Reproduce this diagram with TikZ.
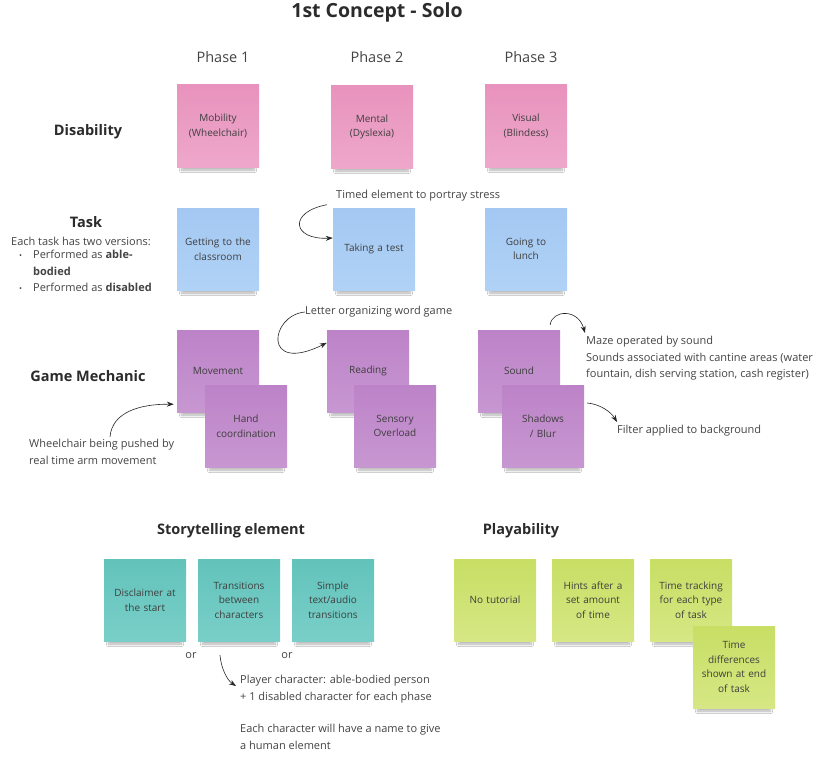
\documentclass[tikz,border=0pt]{standalone}
\usepackage{fontspec}
\setmainfont{Open Sans}
\usetikzlibrary{arrows.meta,shadows.blur}

\newcommand*{\notesize}{82pt}

\definecolor{pinktop}{HTML}{E893BD}
\definecolor{pinkbot}{HTML}{EEA7CA}
\definecolor{bluetop}{HTML}{A4C8F2}
\definecolor{bluebot}{HTML}{B0D2F6}
\definecolor{purpletop}{HTML}{BD83C8}
\definecolor{purplebot}{HTML}{C797D1}
\definecolor{tealtop}{HTML}{62C3BB}
\definecolor{tealbot}{HTML}{79CFC8}
\definecolor{limetop}{HTML}{C8DE64}
\definecolor{limebot}{HTML}{D6E784}
\definecolor{notetext}{HTML}{3E3E3E}
\definecolor{headtext}{HTML}{2B2B2B}
\definecolor{bodytext}{HTML}{444444}

\begin{document}
\begin{tikzpicture}
[
	x=1pt, y=-1pt,
	note/.style={rectangle,minimum size=\notesize,inner sep=2pt,text width=76pt,align=center,
		font=\fontsize{10}{14.5}\selectfont,text=notetext,
		blur shadow={shadow xshift=0pt,shadow yshift=-9pt,shadow opacity=32,shadow blur steps=8,
			shadow blur radius=3pt,shadow scale=0.88}},
	pinknote/.style={note,top color=pinktop,bottom color=pinkbot},
	bluenote/.style={note,top color=bluetop,bottom color=bluebot},
	purplenote/.style={note,top color=purpletop,bottom color=purplebot},
	tealnote/.style={note,top color=tealtop,bottom color=tealbot},
	limenote/.style={note,top color=limetop,bottom color=limebot},
	heading/.style={font=\fontsize{14.5}{17}\selectfont\bfseries,text=headtext},
	phase/.style={font=\fontsize{14.5}{17}\selectfont,text=bodytext},
	remark/.style={font=\fontsize{11}{16.5}\selectfont,text=bodytext,inner sep=0pt,align=left},
	pointer/.style={-{Stealth[length=7pt,width=5pt]},black!85,semithick}
]

	\useasboundingbox[fill=white] (0,0) rectangle (827,765);

	% titles
	\node[font=\fontsize{19.5}{23}\selectfont\bfseries,text=headtext] (title) at (377,12) {1st Concept - Solo};
	\node[phase] (phase1) at (223,57) {Phase 1};
	\node[phase] (phase2) at (377,57) {Phase 2};
	\node[phase] (phase3) at (531,57) {Phase 3};

	\node[heading] (disability) at (88,132) {Disability};
	\node[heading] (task) at (86,222) {Task};
	\node[heading] (mechanic) at (88,376) {Game Mechanic};
	\node[heading] (story) at (231,531) {Storytelling element};
	\node[heading] (play) at (521,531) {Playability};

	\node[remark] (versions) at (81,241) {Each task has two versions:};
	\node[remark,anchor=north west] (performed) at (19,250)
		{\makebox[14pt][l]{\footnotesize\textbullet}Performed as \textbf{able-}\\
		 \hspace*{14pt}\textbf{bodied}\\
		 \makebox[14pt][l]{\footnotesize\textbullet}Performed as \textbf{disabled}};

	% disability notes
	\node[pinknote] (mobility) at (218,126) {Mobility\\(Wheelchair)};
	\node[pinknote] (mental) at (372,127) {Mental\\(Dyslexia)};
	\node[pinknote] (visual) at (526,126) {Visual\\(Blindess)};

	% task notes
	\node[bluenote] (classroom) at (218,249) {Getting to the\\classroom};
	\node[bluenote] (test) at (374,249) {Taking a test};
	\node[bluenote] (lunch) at (526,249) {Going to\\lunch};

	% mechanic notes
	\node[purplenote] (movement) at (218,371) {Movement};
	\node[purplenote] (hand) at (246,426) {Hand\\coordination};
	\node[purplenote] (reading) at (368,371) {Reading};
	\node[purplenote] (sensory) at (395,426) {Sensory\\Overload};
	\node[purplenote] (sound) at (519,371) {Sound};
	\node[purplenote] (shadows) at (543,426) {Shadows\\/ Blur};

	% storytelling notes
	\node[tealnote] (disclaimer) at (145,600) {Disclaimer at\\the start};
	\node[tealnote] (transitions) at (239,600) {Transitions\\between\\characters};
	\node[tealnote] (simple) at (333,600) {Simple\\text/audio\\transitions};

	% playability notes
	\node[limenote] (tutorial) at (495,600) {No tutorial};
	\node[limenote] (hints) at (593,600) {Hints after a\\set amount\\of time};
	\node[limenote] (tracking) at (691,600) {Time tracking\\for each type\\of task};
	\node[limenote] (differences) at (734,667) {Time\\differences\\shown at end\\of task};

	% remarks
	\node[remark,anchor=west] (timed) at (336,196) {Timed element to portray stress};
	\node[remark,anchor=west] (letter) at (305,312) {Letter organizing word game};
	\node[remark,anchor=north west] (maze) at (586,336)
		{Maze operated by sound\\Sounds associated with cantine areas (water\\fountain, dish serving station, cash register)};
	\node[remark,anchor=west] (filter) at (617,431) {Filter applied to background};
	\node[remark,anchor=north west] (wheelchair) at (29,439)
		{Wheelchair being pushed by\\real time arm movement};
	\node[remark,anchor=north west] (player) at (240,675)
		{Player character: able-bodied person\\+ 1 disabled character for each phase\\[16pt]
		 Each character will have a name to give\\a human element};
	\node[remark] (or1) at (191,656) {or};
	\node[remark] (or2) at (287,656) {or};

	% pointers
	\draw[pointer] ([xshift=-9pt,yshift=-3pt]timed.south west) .. controls (288,212) and (292,240) .. ([yshift=11pt]test.west);
	\draw[pointer] (letter.west) .. controls (270,315) and (262,375) .. ([yshift=-13pt]reading.north west);
	\draw[pointer] ([xshift=-10pt,yshift=5pt]sound.north east) .. controls (552,310) and (578,308) .. ([xshift=-1pt,yshift=3pt]maze.north west);
	\draw[pointer] ([xshift=3pt,yshift=23pt]shadows.east) .. controls (600,404) and (611,412) .. ([yshift=9pt]filter.west);
	\draw[pointer] ([xshift=81pt,yshift=2pt]wheelchair.north west) .. controls (112,412) and (140,404) .. ([xshift=-3pt,yshift=8pt]movement.south west);
	\draw[pointer] ([xshift=-19pt,yshift=-14pt]transitions.south) .. controls (221,668) and (227,680) .. ([xshift=-4pt,yshift=-11pt]player.north west);

\end{tikzpicture}
\end{document}
